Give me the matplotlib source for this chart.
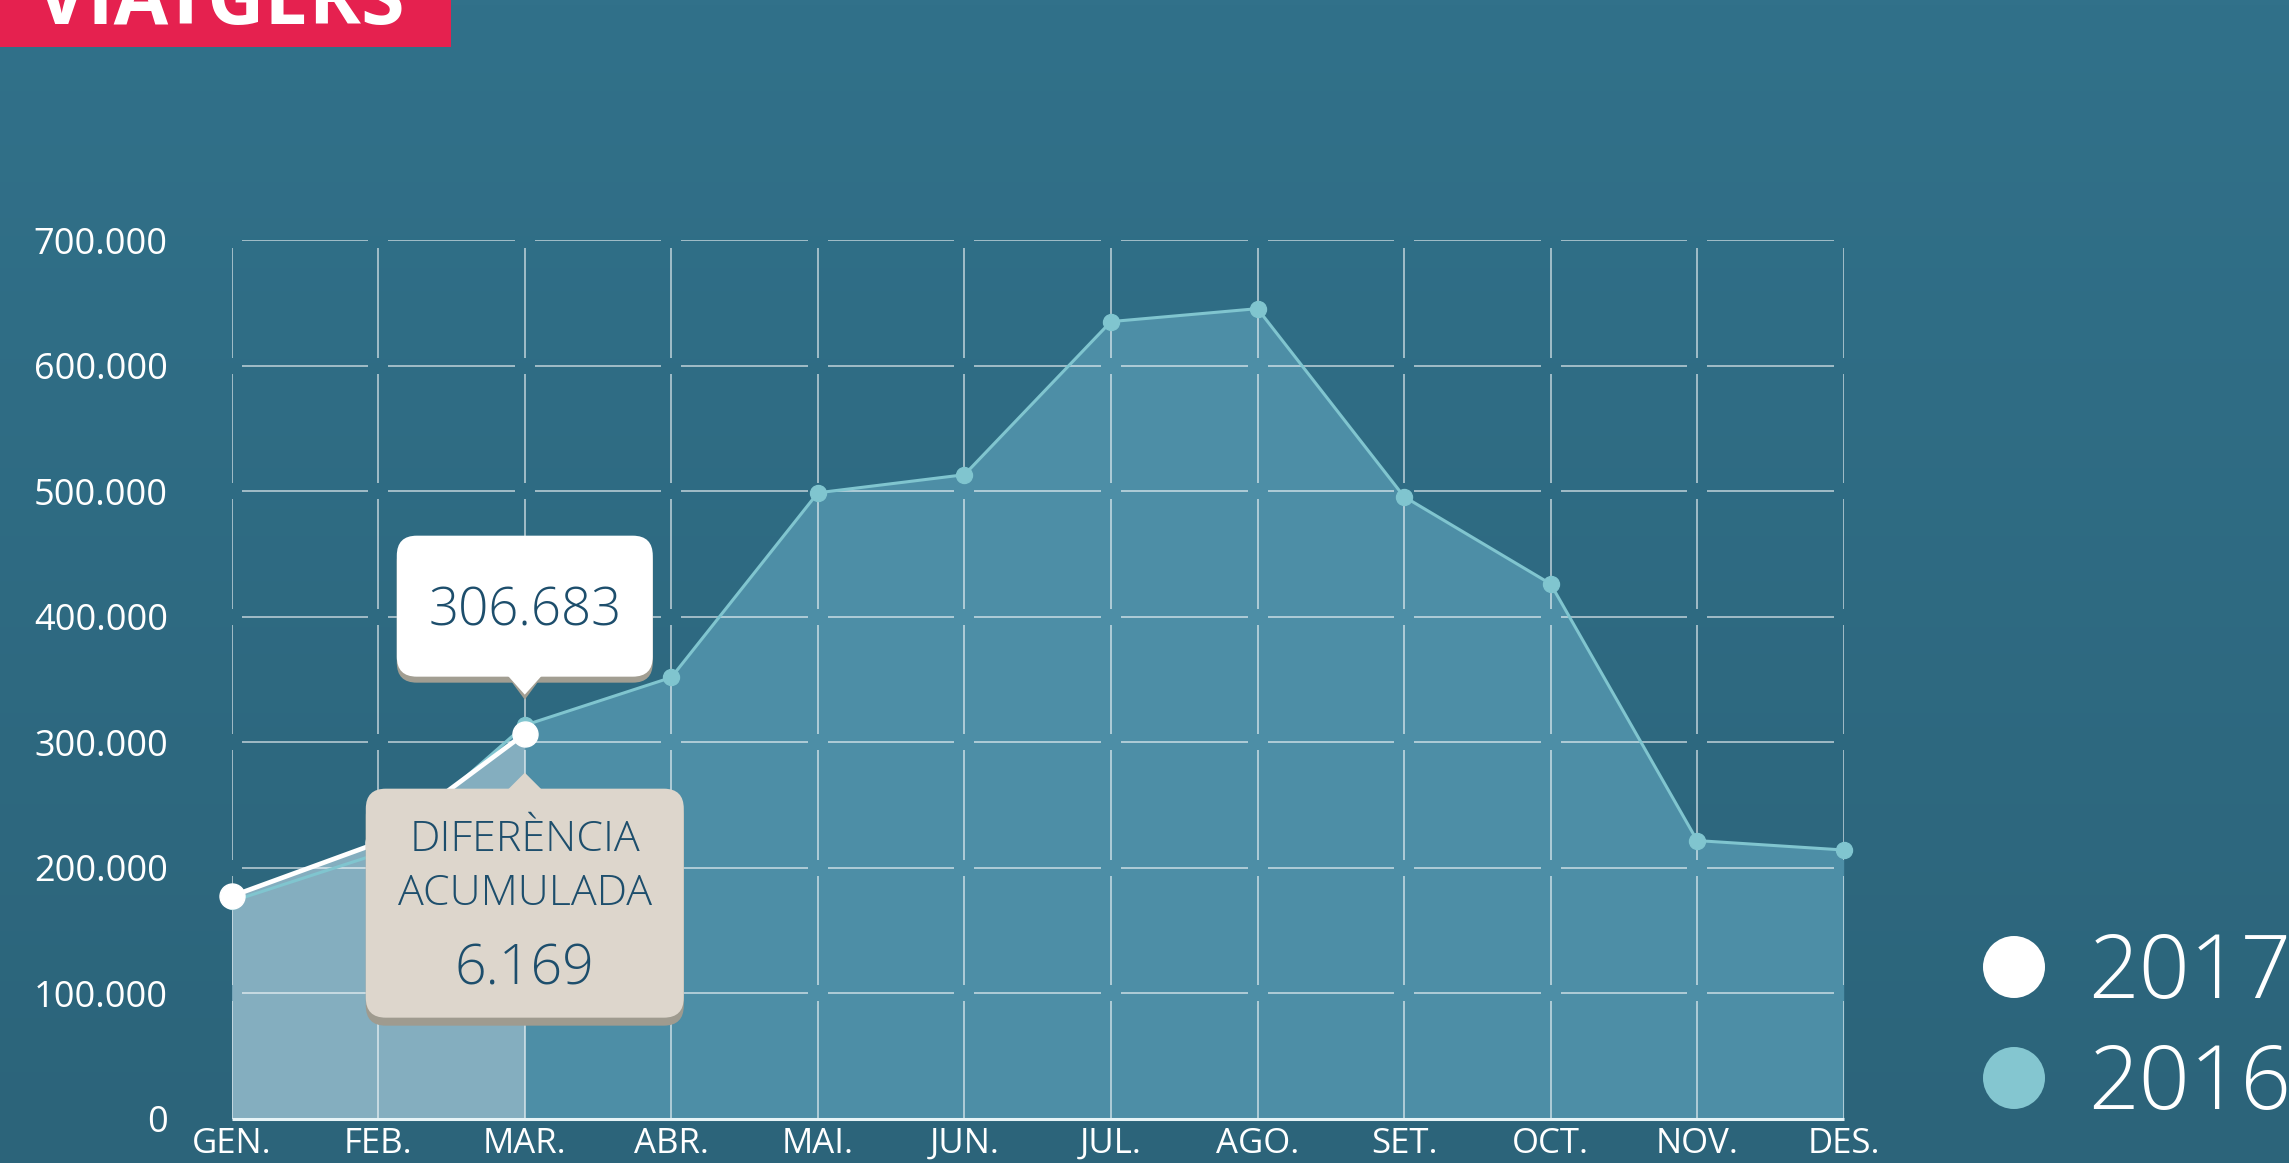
import numpy as np
import matplotlib
matplotlib.use("Agg")
import matplotlib.pyplot as plt
from matplotlib.patches import FancyBboxPatch, Polygon, Rectangle, Circle
from matplotlib.colors import LinearSegmentedColormap

plt.rcParams['font.family'] = ['Open Sans', 'DejaVu Sans']

"""dades"""
months = ['GEN.', 'FEB.', 'MAR.', 'ABR.', 'MAI.', 'JUN.',
          'JUL.', 'AGO.', 'SET.', 'OCT.', 'NOV.', 'DES.']
viatgers_2016 = [173100, 211014, 313400, 351500, 498600, 513000,
                 635000, 645300, 495500, 426000, 221500, 214000]
viatgers_2017 = [177200, 219800, 306683]
y_ticks = [0, 100000, 200000, 300000, 400000, 500000, 600000, 700000]
legend_years = ['2017', '2016']


def fmt(v):
    # separador de milers amb punt
    return f"{v:,}".replace(',', '.')


W, H = 2289, 1163
fig = plt.figure(figsize=(W / 100, H / 100), dpi=100)

# fons amb degradat
bg = fig.add_axes([0, 0, 1, 1], zorder=0)
cmap = LinearSegmentedColormap.from_list('fons', ['#31718a', '#2c647a'])
bg.imshow(np.linspace(0, 1, 256).reshape(-1, 1), aspect='auto', cmap=cmap,
          extent=[0, 1, 0, 1], origin='upper')
bg.axis('off')

"""grafic principal"""
x0, x1 = 231.7, 1843.7     # pixels de GEN i DES
y0, y1 = 1118.6, 240.0     # pixels de 0 i 700.000
ax = fig.add_axes([x0 / W, 1 - y0 / H, (x1 - x0) / W, (y0 - y1) / H], zorder=1)
ax.set_xlim(0, 11)
ax.set_ylim(0, 700000)
ax.patch.set_alpha(0)
for s in ax.spines.values():
    s.set_visible(False)

x16 = np.arange(len(viatgers_2016))
x17 = np.arange(len(viatgers_2017))
ax.fill_between(x16, viatgers_2016, color='#4d8ea6', lw=0, zorder=1)
ax.fill_between(x17, viatgers_2017, color='#84aebf', lw=0, zorder=1.5)

# graella amb talls a les interseccions
gx = 10 / ((x1 - x0) / 11)
gy = 8 / ((y0 - y1) / 700000)
for v in y_ticks[1:]:
    ax.hlines([v] * (len(x16) - 1), x16[:-1] + gx, x16[1:] - gx,
              color='white', alpha=0.55, lw=1.4, zorder=2)
lo = [t + (gy if t > 0 else 0) for t in y_ticks[:-1]]
hi = [t - gy for t in y_ticks[1:]]
for i in x16:
    ax.vlines([i] * len(lo), lo, hi, color='white', alpha=0.55, lw=1.4, zorder=2)
ax.hlines(0, 0, 11, color='#e6f3f6', lw=2.2, zorder=3, clip_on=False)

ax.plot(x16, viatgers_2016, color='#80c5cf', lw=2.2, marker='o', ms=11.5,
        zorder=4, clip_on=False)
ax.plot(x17, viatgers_2017, color='white', lw=3.4, marker='o', ms=18,
        zorder=5, clip_on=False)

ax.set_yticks(y_ticks, [fmt(v) for v in y_ticks])
ax.set_xticks(x16, months)
ax.tick_params(axis='y', length=0, pad=46, labelsize=26, labelcolor='white')
ax.tick_params(axis='x', length=0, pad=6, labelsize=25, labelcolor='white')

"""capa superior: titol, bafarades, llegenda"""
fr = fig.add_axes([0, 0, 1, 1], zorder=3)
fr.set_xlim(0, W)
fr.set_ylim(H, 0)
fr.axis('off')

fr.add_patch(Rectangle((0, 0), 451, 47, color='#e5214f', lw=0))
fr.text(36, 24, 'VIATGERS', color='white', fontsize=57, weight='bold', va='baseline')

last = len(viatgers_2017) - 1
px, py = ax.transData.transform((x17[last], viatgers_2017[last]))
py = H - py

# bafarada blanca
bw, bh = 256, 141
bt = py - 198
fr.add_patch(FancyBboxPatch((px - bw / 2, bt + 6), bw, bh, boxstyle='round,pad=0,rounding_size=20',
                            fc='#a29e92', ec='none'))
fr.add_patch(Polygon([(px - 17, bt + bh), (px + 17, bt + bh), (px, bt + bh + 23)], closed=True,
                     fc='#a29e92', ec='none'))
fr.add_patch(FancyBboxPatch((px - bw / 2, bt), bw, bh, boxstyle='round,pad=0,rounding_size=20',
                            fc='white', ec='none'))
fr.add_patch(Polygon([(px - 17, bt + bh - 1), (px + 17, bt + bh - 1), (px, bt + bh + 18)], closed=True,
                     fc='white', ec='none'))
fr.text(px, bt + 76, fmt(viatgers_2017[last]), ha='center', va='center', fontsize=38,
        color='#1d4e6c', weight='light')

# bafarada beix
diff = sum(viatgers_2017) - sum(viatgers_2016[:len(viatgers_2017)])
cw, ch = 318, 229
ct = py + 55
fr.add_patch(FancyBboxPatch((px - cw / 2, ct + 8), cw, ch, boxstyle='round,pad=0,rounding_size=20',
                            fc='#9f9b8f', ec='none'))
fr.add_patch(FancyBboxPatch((px - cw / 2, ct), cw, ch, boxstyle='round,pad=0,rounding_size=20',
                            fc='#ddd6cc', ec='none'))
fr.add_patch(Polygon([(px - 17, ct + 1), (px + 17, ct + 1), (px, ct - 16)], closed=True,
                     fc='#ddd6cc', ec='none'))
fr.text(px, ct + 51, 'DIFERÈNCIA', ha='center', va='center', fontsize=31, color='#1d4e6c', weight='light')
fr.text(px, ct + 105, 'ACUMULADA', ha='center', va='center', fontsize=31, color='#1d4e6c', weight='light')
fr.text(px, ct + 181, fmt(diff), ha='center', va='center', fontsize=40, color='#1d4e6c', weight='light')

# llegenda
for k, (yr, col) in enumerate(zip(legend_years, ['white', '#84c6d0'])):
    cy = 967 + k * 111
    fr.add_patch(Circle((2014, cy), 31, color=col, lw=0))
    fr.text(2088, cy + 31, yr, color='white', fontsize=64, weight='light', va='baseline')

fig.savefig('out.png', dpi=100)
